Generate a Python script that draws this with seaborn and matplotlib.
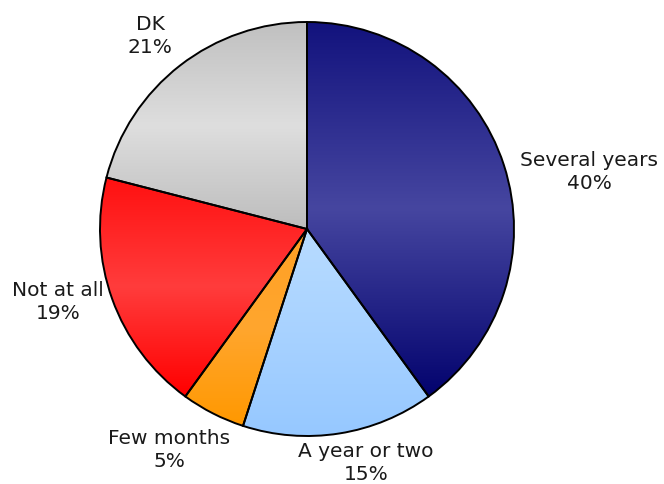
import numpy as np
import matplotlib
matplotlib.use("Agg")
import matplotlib.pyplot as plt
import seaborn as sns
from matplotlib.colors import LinearSegmentedColormap

# data
labels = ["Several years", "A year or two", "Few months", "Not at all", "DK"]
shares = [40, 15, 5, 19, 21]

# gradient stops per slice: bottom, middle, top
grad_stops = [
    ["#03036e", "#4646a0", "#12127d"],
    ["#96c8ff", "#a8d2ff", "#b8dcff"],
    ["#ff9800", "#ffa62e", "#ffa024"],
    ["#ff0000", "#ff3c3c", "#ff1010"],
    ["#bdbdbd", "#dedede", "#c0c0c0"],
]
# label block centres (pixels, y from top)
label_pos = [(589, 172), (366, 463), (169, 450), (58, 302), (150, 36)]

sns.set_theme(style="white")
plt.rcParams["font.family"] = ["DejaVu Sans"]

fig = plt.figure(figsize=(6.64, 4.84), dpi=100)
ax = fig.add_axes([0, 0, 1, 1])

wedges, _ = ax.pie(shares, startangle=90, counterclock=False,
                   center=(307, 484 - 229), radius=207,
                   colors=[g[1] for g in grad_stops],
                   wedgeprops=dict(edgecolor="black", linewidth=1.4))

ramp = np.linspace(0, 1, 256).reshape(-1, 1)
for w, stops in zip(wedges, grad_stops):
    cmap = LinearSegmentedColormap.from_list("g", stops)
    bb = w.get_path().get_extents()
    im = ax.imshow(ramp, cmap=cmap, origin="lower", aspect="auto",
                   extent=[bb.x0, bb.x1, bb.y0, bb.y1], zorder=0.5,
                   interpolation="bilinear")
    im.set_clip_path(w)
    w.set_facecolor("none")

for lab, val, (x, y) in zip(labels, shares, label_pos):
    ax.text(x, 484 - y, f"{lab}\n{val}%", ha="center", va="center",
            fontsize=14.5, color="#1a1a1a", linespacing=1.3)

ax.set_xlim(0, 664)
ax.set_ylim(0, 484)
ax.set_aspect("equal")
ax.axis("off")

fig.savefig("out.png", dpi=100)
